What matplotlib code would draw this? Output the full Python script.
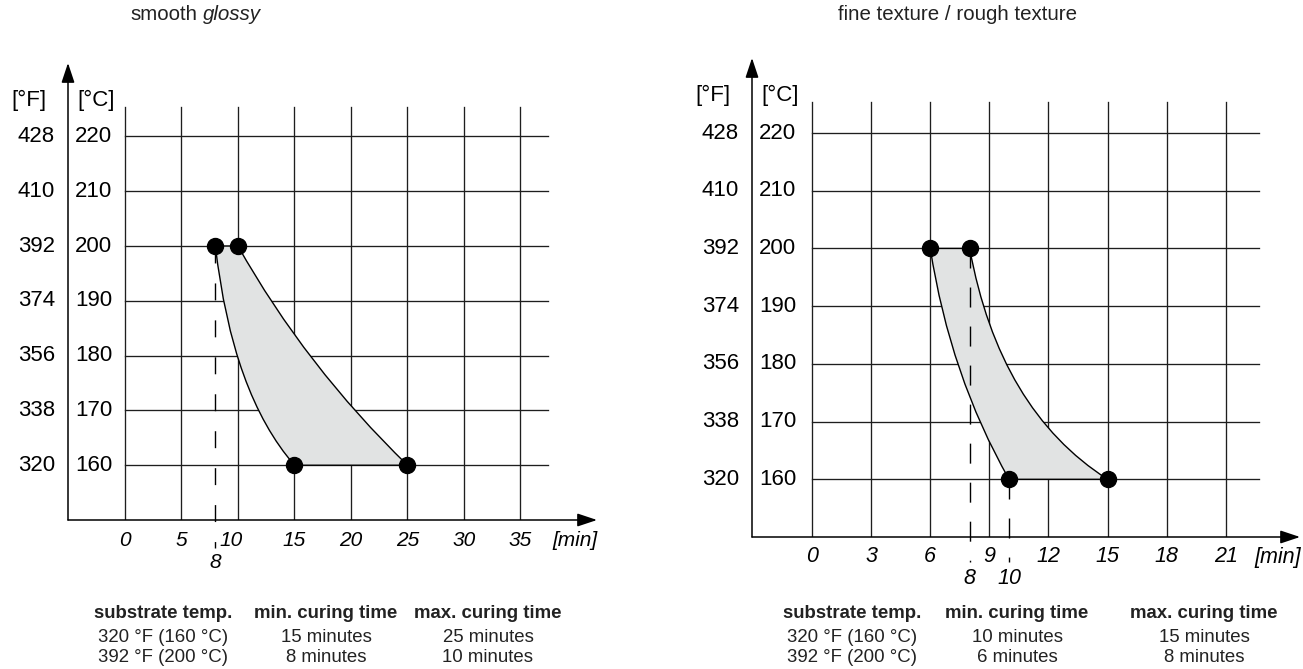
import matplotlib
matplotlib.use("Agg")
import matplotlib.pyplot as plt
from matplotlib.path import Path
from matplotlib.patches import PathPatch

plt.rcParams['font.family'] = ['Liberation Sans', 'DejaVu Sans']

W, H = 1303, 669

# shared values
temp_c = [160, 170, 180, 190, 200, 210, 220]
temp_f = [320, 338, 356, 374, 392, 410, 428]
table_head = ["substrate temp.", "min. curing time", "max. curing time"]
table_temps = ["320 °F (160 °C)", "392 °F (200 °C)"]

# left chart: smooth glossy
l_xticks = [0, 5, 10, 15, 20, 25, 30, 35]
l_pts_x = [8, 10, 15, 25]
l_pts_y = [200, 200, 160, 160]
l_min_curve = [(8, 200), (9.5, 173), (15, 160)]    # start, bezier control, end
l_max_curve = [(10, 200), (16, 178), (25, 160)]
l_guides = [(8, 200)]                               # dashed helper lines (time, from temp)
l_min_times = ["15 minutes", "8 minutes"]
l_max_times = ["25 minutes", "10 minutes"]

# right chart: fine texture / rough texture
r_xticks = [0, 3, 6, 9, 12, 15, 18, 21]
r_pts_x = [6, 8, 10, 15]
r_pts_y = [200, 200, 160, 160]
r_min_curve = [(6, 200), (7.0, 178), (10, 160)]
r_max_curve = [(8, 200), (9.5, 172), (15, 160)]
r_guides = [(8, 200), (10, 160)]
r_min_times = ["10 minutes", "6 minutes"]
r_max_times = ["15 minutes", "8 minutes"]

fig = plt.figure(figsize=(W / 100, H / 100), dpi=100)

GRID = '#1e1e1e'


def chart(box, xlim, ylim, xticks, grid_xmax, mins, maxs, px, py, guides,
          guide_end, dash, xfs, lbl_shift, extra_lbls):
    left, right, top, bottom = box
    ax = fig.add_axes([left / W, 1 - bottom / H, (right - left) / W, (bottom - top) / H])
    ax.set_xlim(xlim)
    ax.set_ylim(ylim)
    ax.axis('off')

    # grid
    for x in xticks:
        ax.plot([x, x], [150, 225.3], color=GRID, lw=0.95, zorder=1)
    for c in temp_c:
        ax.plot([0, grid_xmax], [c, c], color=GRID, lw=0.95, zorder=1)

    # axes with arrows
    arr = dict(arrowstyle='-|>,head_length=0.6,head_width=0.2', mutation_scale=20,
               lw=1.1, color='black', shrinkA=0, shrinkB=0)
    ax.annotate('', xy=(1, 0), xytext=(0, 0), xycoords='axes fraction', arrowprops=arr)
    ax.annotate('', xy=(0, 1), xytext=(0, 0), xycoords='axes fraction', arrowprops=arr)

    # curing window
    verts = [mins[0], mins[1], mins[2], maxs[2], maxs[1], maxs[0], mins[0]]
    codes = [Path.MOVETO, Path.CURVE3, Path.CURVE3, Path.LINETO,
             Path.CURVE3, Path.CURVE3, Path.CLOSEPOLY]
    ax.add_patch(PathPatch(Path(verts, codes), facecolor='#e1e3e3',
                           edgecolor='black', lw=1.0, zorder=2))

    for gx, gy in guides:
        ax.plot([gx, gx], [gy, guide_end], color='black', lw=1.0,
                dashes=dash, clip_on=False, zorder=3)

    ax.plot(px, py, 'o', ms=11.5, color='black', zorder=5, clip_on=False)

    # labels
    span_x = xlim[1] - xlim[0]
    span_y = ylim[1] - ylim[0]
    ppx = (right - left) / span_x
    ppy = (bottom - top) / span_y
    x0px = left - xlim[0] * ppx

    def dx(p):
        return (p - x0px) / ppx

    def dy(p):
        return ylim[0] + (bottom - p) / ppy

    for f, c in zip(temp_f, temp_c):
        ax.text(dx(left - 13), c, str(f), ha='right', va='center', fontsize=16)
        ax.text(dx(left + 7), c, str(c), ha='left', va='center', fontsize=16)
    ax.text(dx(left - 39), dy(top + 37), '[°F]', ha='center', va='center', fontsize=16)
    ax.text(dx(left + 9), dy(top + 37), '[°C]', ha='left', va='center', fontsize=16)

    row = dy(bottom + 20)
    for x in xticks:
        ax.text(x + lbl_shift.get(x, 0), row, str(x), ha='center', va='center',
                fontsize=xfs, style='italic')
    ax.text(dx(right - 22), row, '[min]', ha='center', va='center',
            fontsize=xfs, style='italic')
    for x in extra_lbls:
        ax.text(x, dy(bottom + 42), str(x), ha='center', va='center',
                fontsize=xfs, style='italic')
    return ax


chart((68, 597, 63, 520), (-5.04, 41.77), (150, 233.4), l_xticks, 37.4,
      l_min_curve, l_max_curve, l_pts_x, l_pts_y, l_guides, 144.9,
      (12.2, 14.4), 15, {10: -0.6}, [8])
chart((752, 1300, 58, 537), (-3.05, 24.77), (150, 233.0), r_xticks, 22.7,
      r_min_curve, r_max_curve, r_pts_x, r_pts_y, r_guides, 145.7,
      (14.4, 13.7), 15.5, {}, [8, 10])

# titles
fig.text(130 / W, 1 - 15 / H, 'smooth', fontsize=14.8, ha='left', va='center',
         color='#222222')
fig.text(203 / W, 1 - 15 / H, 'glossy', fontsize=14.8, ha='left', va='center',
         style='italic', color='#222222')
fig.text(838 / W, 1 - 15 / H, 'fine texture / rough texture', fontsize=14.8,
         ha='left', va='center', color='#222222')

# tables
for cols, mins_t, maxs_t in [((163, 326, 488), l_min_times, l_max_times),
                             ((852, 1017, 1204), r_min_times, r_max_times)]:
    for cx, head in zip(cols, table_head):
        fig.text(cx / W, 1 - 614 / H, head, ha='center', va='center',
                 fontsize=13.4, weight='bold', color='#222222')
    for i in range(2):
        for cx, val in zip(cols, [table_temps[i], mins_t[i], maxs_t[i]]):
            fig.text(cx / W, 1 - (637 + 21 * i) / H, val, ha='center', va='center',
                     fontsize=13.4, color='#222222')

fig.savefig('out.png', dpi=100)
